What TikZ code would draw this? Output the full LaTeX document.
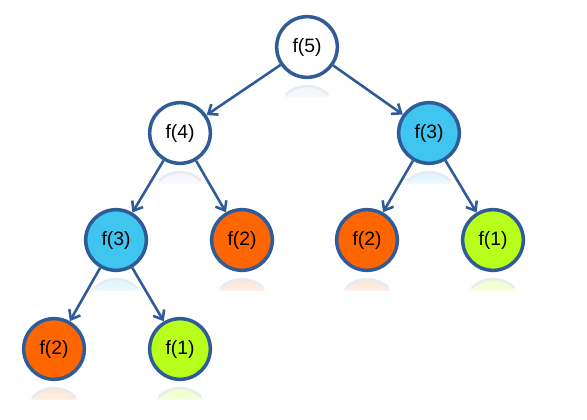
\documentclass[tikz,border=0pt]{standalone}
\usepackage{fontspec}
\setmainfont{Liberation Sans}
\usetikzlibrary{arrows.meta}
\definecolor{rimblue}{RGB}{47,92,152}
\definecolor{callcyan}{RGB}{64,196,240}
\definecolor{callorange}{RGB}{255,102,0}
\definecolor{calllime}{RGB}{185,255,28}
\begin{document}
\begin{tikzpicture}[x=0.03cm,y=-0.03cm,
    call/.style={circle,draw=rimblue,fill=white,line width=3pt,minimum size=1.82cm,inner sep=0pt,font=\fontsize{16.5}{19}\selectfont},
    calledge/.style={draw=rimblue,line width=2.2pt,-{Straight Barb[length=2.4mm,width=3.8mm]}}]
    \useasboundingbox (0,0) rectangle (587,420);
    % faint mirror images under the calls
    \foreach \x/\y/\c in {307/47/rimblue!6,180/133/rimblue!6,429/133/callcyan!18,
        116/240/callcyan!18,242/240/callorange!18,367/240/callorange!18,
        493/240/calllime!25,54/349/callorange!18,180/349/calllime!25}{
      \shade[top color=\c, bottom color=white] (\x,\y+69) ++(218:30)
          arc[start angle=218,end angle=322,radius=30] -- cycle;
      \draw[rimblue!12,line width=2pt] (\x,\y+69) ++(225:30)
          arc[start angle=225,end angle=315,radius=30];}
    % the calls
    \node[call] (f5) at (307,47) {f(5)};
    \node[call] (f4) at (180,133) {f(4)};
    \node[call,fill=callcyan] (f3r) at (429,133) {f(3)};
    \node[call,fill=callcyan] (f3l) at (116,240) {f(3)};
    \node[call,fill=callorange] (f2a) at (242,240) {f(2)};
    \node[call,fill=callorange] (f2b) at (367,240) {f(2)};
    \node[call,fill=calllime] (f1a) at (493,240) {f(1)};
    \node[call,fill=callorange] (f2c) at (54,349) {f(2)};
    \node[call,fill=calllime] (f1b) at (180,349) {f(1)};
    % who calls whom
    \foreach \a/\b in {f5/f4,f5/f3r,f4/f3l,f4/f2a,f3r/f2b,f3r/f1a,f3l/f2c,f3l/f1b}
      \draw[calledge] (\a) -- (\b);
\end{tikzpicture}
\end{document}
